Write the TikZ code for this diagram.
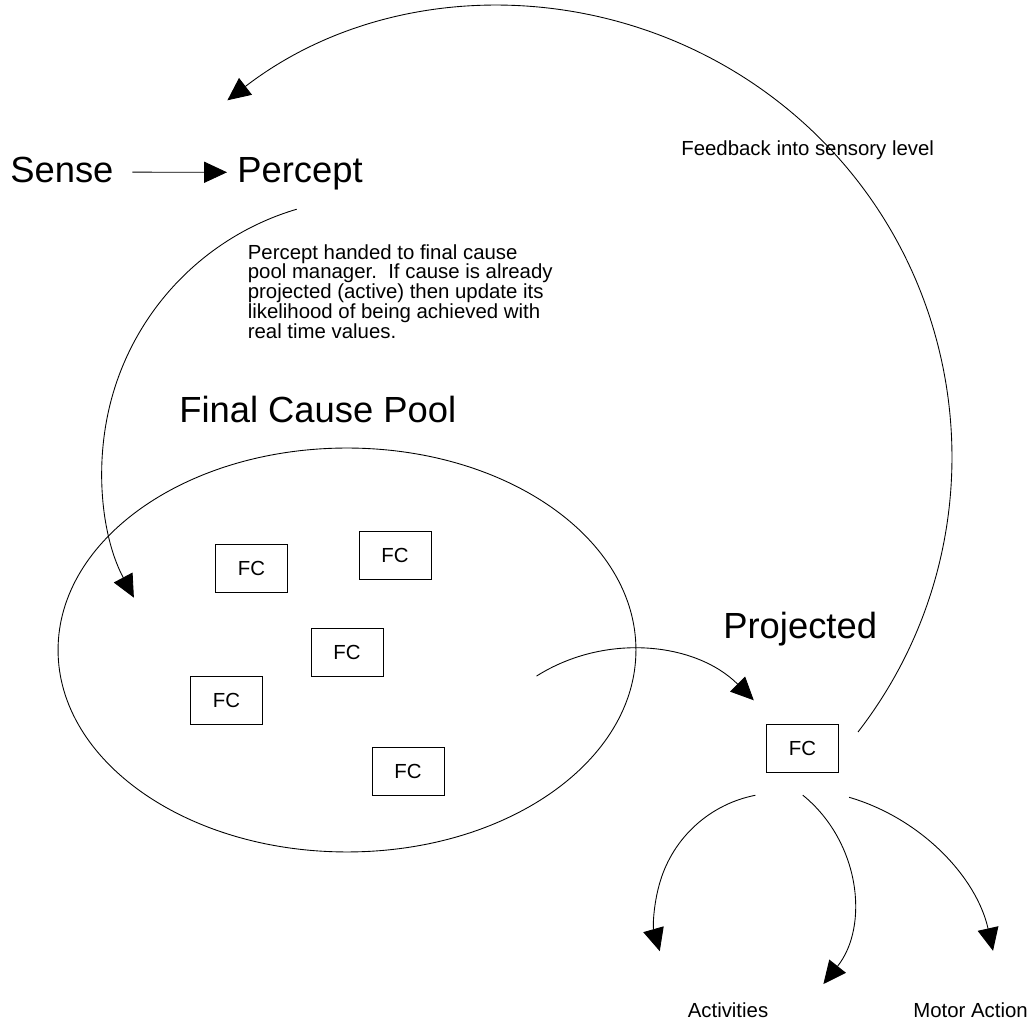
\documentclass[tikz,border=0pt]{standalone}
\usepackage{fontspec}
\setmainfont{Liberation Sans}
\usetikzlibrary{arrows.meta,shapes.geometric}
\begin{document}
\begin{tikzpicture}[x=0.02cm, y=0.02cm,
        bigtext/.style={font=\fontsize{20.7}{24}\selectfont, inner sep=0pt},
        smalltext/.style={font=\fontsize{11.6}{11.3}\selectfont, inner sep=0pt},
        fcbox/.style={draw, line width=0.5pt, minimum width=1.44cm, minimum height=0.96cm, inner sep=0pt, font=\fontsize{11.6}{13}\selectfont},
        arr/.style={line width=0.5pt, -{Triangle[length=13pt, width=12pt]}}]
        \useasboundingbox (0,0) rectangle (1033,1023);

        % Sensory level
        \node[bigtext, text depth=0.21em, anchor=base west] (sense) at (10,840) {Sense};
        \node[bigtext, text depth=0.21em, anchor=base west] (percept) at (237,840) {Percept};
        \draw[arr, shorten <=0.37cm, shorten >=0.2cm] (sense.east) -- (percept.west);

        % Note on the percept
        \node[smalltext, align=left, anchor=north west] (note) at (247.5,779)
            {Percept handed to final cause\\pool manager.\ \ If cause is already\\projected (active) then update its\\likelihood of being achieved with\\real time values.};

        % Final cause pool
        \node[bigtext, anchor=base west] (pooltitle) at (179,600) {Final Cause Pool};
        \node[draw, ellipse, line width=0.5pt, minimum width=11.56cm, minimum height=8.08cm, inner sep=0pt] (pool) at (347,373) {};
        \node[fcbox] (fc1) at (251.5,455) {FC};
        \node[fcbox] (fc2) at (395,467.5) {FC};
        \node[fcbox] (fc3) at (347,371) {FC};
        \node[fcbox] (fc4) at (226.5,323) {FC};
        \node[fcbox] (fc5) at (408,251.5) {FC};

        % Projected cause
        \node[bigtext, anchor=base west] (projtitle) at (723,384) {Projected};
        \node[fcbox] (fcproj) at (802.5,275) {FC};

        % Outputs
        \node[smalltext, anchor=base] (act) at (728,6) {Activities};
        \node[smalltext, anchor=base] (motor) at (970.5,6) {Motor Action};
        \node[smalltext, anchor=base west] (fblabel) at (681,867) {Feedback into sensory level};

        % Curved arrows
        \coordinate (perceptout) at (296.8,813.8);
        \draw[arr] (perceptout) arc[start angle=106.5, end angle=208, radius=272];
        \coordinate (poolout) at (536.5,346.9);
        \draw[arr] (poolout) arc[start angle=122.3, end angle=45, radius=175];
        \coordinate (fbstart) at (858,291);
        \draw[arr] (fbstart) arc[start angle=-37.7, end angle=127.6, radius=450];
        \coordinate (actout) at (755.3,227.7);
        \draw[arr] (actout) arc[start angle=101, end angle=196, radius=124];
        \coordinate (midout) at (802.7,227.9);
        \draw[arr] (midout) arc[start angle=51, end angle=-38.5, radius=135];
        \coordinate (motout) at (849.1,225.7);
        \draw[arr] (motout) arc[start angle=73.7, end angle=12.6, radius=207];
\end{tikzpicture}
\end{document}
